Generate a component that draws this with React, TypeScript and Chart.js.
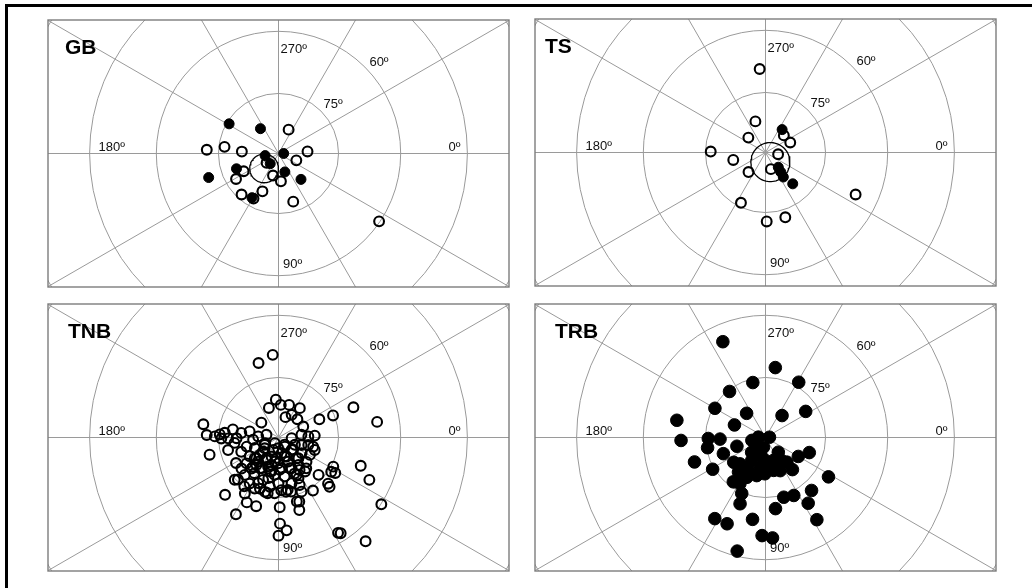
import React, { useEffect, useRef } from "react";
import { Chart, registerables } from "chart.js";

Chart.register(...registerables);

// ---- Site directions: declination (deg) and inclination (deg) ----
// Filled symbols: positive (downward) inclination; open symbols: negative (upward).

const gbDownDec = [211, 234, 0, 171, 129, 160, 161, 71, 49, 121];
const gbDownInc = [75.6, 82.3, 88.7, 86.6, 86.7, 78.8, 71.6, 85.1, 81.4, 77.1];
const gbUpDec = [293, 183, 187, 183, 356, 21, 142, 153, 149, 104, 85, 113, 132, 119, 73, 34];
const gbUpInc = [-83.5, -72.1, -76.4, -80.8, -82.7, -85.2, -86.2, -80.2, -77.6, -84.3, -83.0, -79.7, -76.2, -77.1, -77.4, -60.2];
const gbMean = [134, 84.8];
const gbA95 = 3.6;

const tsDownDec = [306, 49, 52, 54, 49];
const tsDownInc = [82.9, 85.1, 83.8, 82.4, 79.6];
const tsUpDec = [266, 252, 221, 181, 167, 131, 72, 8, 317, 338, 116, 89, 73, 25];
const tsUpInc = [-69.2, -81.8, -84.3, -76.3, -81.7, -83.5, -85.6, -86.8, -83.7, -83.3, -76.0, -72.8, -73.1, -65.4];
const tsMean = [63, 87.3];
const tsA95 = 4.9;

const tnbUpDec = [
  266, 252, 274, 288, 306, 289, 300, 316, 336, 338,
  221, 190, 182, 181, 185, 190, 187, 192, 183, 193,
  123, 3, 353, 358, 357, 14, 19, 166, 166, 159,
  156, 138, 110, 79, 43, 34, 29, 149, 141, 130,
  110, 91, 68, 54, 48, 132, 124, 110, 96, 81,
  66, 52, 43, 28, 32, 134, 122, 110, 100, 87,
  74, 66, 43, 133, 121, 266, 255, 338, 351, 336,
  19, 25, 33, 119, 116, 108, 89, 72, 74, 89,
  85, 90, 58, 57, 50, 57, 44, 183, 173, 164,
  157, 49, 24, 18, 139, 119, 102, 84, 67, 131,
  140, 136, 125, 115, 104, 94, 82, 64, 142, 99,
  72, 46, 15, 33, 175, 179, 179, 179, 92, 104,
  77, 67, 74, 129, 104, 118, 137, 147, 41,
  137, 120, 96, 67, 49, 121, 104, 88, 70, 57,
  131, 152, 55, 40, 113, 114, 90, 80, 101, 64,
];
const tnbUpInc = [
  -80.5, -82.2, -81.8, -81.4, -80.9, -84.6, -83.4, -83.4, -78.8, -75.3,
  -84.3, -71.0, -72.1, -74.1, -76.5, -78.4, -80.6, -82.6, -84.9, -86.9,
  -88.3, -86.7, -84.2, -82.5, -80.9, -82.3, -80.4, -72.3, -77.0, -80.0,
  -83.5, -84.8, -84.9, -86.0, -85.5, -83.0, -81.0, -77.6, -79.7, -82.1,
  -82.3, -83.5, -83.5, -81.5, -79.6, -77.4, -79.2, -78.7, -80.6, -80.1,
  -80.1, -79.2, -76.3, -74.5, -73.3, -75.4, -76.4, -76.4, -77.5, -76.8,
  -78.1, -77.0, -73.1, -70.5, -73.7, -69.4, -70.8, -69.9, -65.3, -83.2,
  -68.4, -65.2, -59.9, -68.2, -72.0, -72.0, -72.6, -73.2, -71.2, -68.6,
  -66.9, -65.7, -62.3, -61.9, -56.9, -74.2, -72.3, -75.3, -78.9, -81.7,
  -86.3, -87.6, -85.5, -83.9, -82.1, -81.2, -81.3, -82.3, -81.6, -79.7,
  -77.9, -74.8, -75.1, -75.9, -76.0, -76.0, -76.3, -79.6, -85.6, -83.9,
  -85.0, -82.8, -81.0, -74.3, -83.6, -79.5, -77.4, -75.7, -87.3, -79.5,
  -76.1, -75.3, -73.4, -81.2, -82.9, -83.6, -83.6, -81.4, -80.7,
  -82.4, -84.0, -84.8, -84.8, -83.1, -81.0, -81.2, -81.9, -81.8, -80.3,
  -80.3, -86.1, -87.2, -85.2, -86.6, -77.5, -78.5, -76.7, -75.8, -78.6,
];

const trbDownDec = [
  246, 278, 257, 301, 232, 210, 232, 307, 327, 191,
  202, 178, 179, 178, 163, 168, 183, 356, 134, 170,
  159, 161, 149, 142, 127, 121, 108, 87, 49, 49,
  30, 19, 50, 76, 100, 103, 115, 128, 126, 113,
  111, 32, 49, 64, 73, 57, 82, 58, 122, 114,
  99, 92, 86, 104, 102, 55, 119, 95, 120,
  117, 91, 71, 133, 134, 66,
];
const trbDownInc = [
  64.1, 72.4, 75.9, 73.9, 75.4, 75.4, 82.3, 83.1, 78.0, 67.6,
  81.6, 69.0, 75.7, 78.6, 82.5, 86.5, 88.2, 89.0, 86.9, 75.3,
  78.7, 71.3, 74.6, 79.9, 80.7, 83.3, 85.7, 83.4, 85.1, 81.8,
  80.5, 78.4, 79.5, 81.5, 82.4, 80.2, 79.0, 79.0, 76.3, 74.8,
  72.3, 71.5, 72.5, 73.9, 74.4, 70.5, 72.1, 66.0, 66.3, 66.6,
  69.4, 65.7, 65.1, 61.2, 87.5, 82.9, 76.8, 84.6, 84.8,
  80.7, 80.9, 83.9, 84.9, 80.8, 80.9,
];

// ---- Net graticule and annotation text ----
const GRID_INCS = [75, 60, 45, 30, 15];
const SPOKE_STEP = 30;
const AZIMUTH_LABELS = ["0º", "90º", "180º", "270º"];
const INC_LABELS = ["75º", "60º"];

// ---- Layout ----
const PX_PER_UNIT = 456;
const PLOT_W = 461;
const PLOT_H = 267;
const PAD = 2;
const DEG = Math.PI / 180;
const FONT = '"Liberation Sans", Arial, Helvetica, sans-serif';

type Pt = { x: number; y: number };

// Equal-angle (stereographic) projection, 0º to the right, 90º downwards.
function project(dec: number, inc: number): Pt {
  const r = Math.tan(((90 - Math.abs(inc)) * DEG) / 2);
  return { x: r * Math.cos(dec * DEG), y: -r * Math.sin(dec * DEG) };
}

function toPoints(decs: number[], incs: number[]): Pt[] {
  return decs.map((d, i) => project(d, incs[i]));
}

// Cone of confidence around a mean direction, traced on the sphere and projected.
function confidenceCircle(mean: number[], a95: number): Pt[] {
  const [D, I] = mean;
  const m = [Math.cos(I * DEG) * Math.cos(D * DEG), Math.cos(I * DEG) * Math.sin(D * DEG), Math.sin(I * DEG)];
  let u = [m[1], -m[0], 0];
  const un = Math.hypot(u[0], u[1]) || 1;
  u = [u[0] / un, u[1] / un, 0];
  const w = [m[1] * u[2] - m[2] * u[1], m[2] * u[0] - m[0] * u[2], m[0] * u[1] - m[1] * u[0]];
  const ca = Math.cos(a95 * DEG);
  const sa = Math.sin(a95 * DEG);
  const pts: Pt[] = [];
  for (let t = 0; t <= 360; t += 5) {
    const c = Math.cos(t * DEG);
    const s = Math.sin(t * DEG);
    const p = [0, 1, 2].map((k) => ca * m[k] + sa * (c * u[k] + s * w[k]));
    const inc = Math.asin(Math.max(-1, Math.min(1, p[2]))) / DEG;
    const dec = Math.atan2(p[1], p[0]) / DEG;
    pts.push(project(dec, inc));
  }
  return pts;
}

type Panel = {
  name: string;
  left: number;
  top: number;
  nameX: number;
  upDec?: number[];
  upInc?: number[];
  downDec?: number[];
  downInc?: number[];
  mean?: number[];
  a95?: number;
  dotR: number;
};

const PANELS: Panel[] = [
  { name: "GB", left: 48, top: 20, nameX: 17, upDec: gbUpDec, upInc: gbUpInc, downDec: gbDownDec, downInc: gbDownInc, mean: gbMean, a95: gbA95, dotR: 5.0 },
  { name: "TS", left: 535, top: 19, nameX: 10, upDec: tsUpDec, upInc: tsUpInc, downDec: tsDownDec, downInc: tsDownInc, mean: tsMean, a95: tsA95, dotR: 5.0 },
  { name: "TNB", left: 48, top: 304, nameX: 20, upDec: tnbUpDec, upInc: tnbUpInc, dotR: 5.0 },
  { name: "TRB", left: 535, top: 304, nameX: 20, downDec: trbDownDec, downInc: trbDownInc, dotR: 6.3 },
];

const netPlugin = (panel: Panel) => ({
  id: "stereonet-" + panel.name,
  beforeDatasetsDraw(chart: any) {
    const { ctx, chartArea: ca, scales } = chart;
    const cx = scales.x.getPixelForValue(0);
    const cy = scales.y.getPixelForValue(0);
    const k = scales.x.getPixelForValue(1) - cx;
    const rad = (inc: number) => k * Math.tan(((90 - inc) * DEG) / 2);

    ctx.save();
    ctx.beginPath();
    ctx.rect(ca.left, ca.top, ca.width, ca.height);
    ctx.clip();

    ctx.strokeStyle = "#9a9a9a";
    ctx.lineWidth = 1;
    for (const inc of GRID_INCS) {
      ctx.beginPath();
      ctx.arc(cx, cy, rad(inc), 0, Math.PI * 2);
      ctx.stroke();
    }
    for (let a = 0; a < 360; a += SPOKE_STEP) {
      ctx.beginPath();
      ctx.moveTo(cx, cy);
      ctx.lineTo(cx + 1000 * Math.cos(a * DEG), cy + 1000 * Math.sin(a * DEG));
      ctx.stroke();
    }

    // azimuth and inclination labels
    ctx.fillStyle = "#111";
    ctx.font = `13px ${FONT}`;
    ctx.textBaseline = "alphabetic";
    const [l0, l90, l180, l270] = AZIMUTH_LABELS;
    ctx.textAlign = "left";
    ctx.fillText(l270, cx + 2, cy - rad(60) + 22);
    ctx.fillText(l90, cx + 4.5, cy + rad(60) - 7.5);
    ctx.fillText(l180, cx - rad(45) + 9, cy - 2.5);
    const diag = Math.SQRT1_2;
    ctx.fillText(INC_LABELS[0], cx + rad(75) * diag + 2.5, cy - rad(75) * diag - 3);
    ctx.fillText(INC_LABELS[1], cx + rad(60) * diag + 4.5, cy - rad(60) * diag - 1);
    ctx.textAlign = "right";
    ctx.fillText(l0, cx + rad(45) - 7, cy - 2.5);

    // site name
    ctx.textAlign = "left";
    ctx.fillStyle = "#000";
    ctx.font = `bold 21px ${FONT}`;
    ctx.fillText(panel.name, ca.left + panel.nameX, ca.top + 34);
    ctx.restore();
  },
  afterDraw(chart: any) {
    const { ctx, chartArea: ca } = chart;
    ctx.save();
    ctx.strokeStyle = "#7d7d7d";
    ctx.lineWidth = 1.4;
    ctx.strokeRect(ca.left, ca.top, ca.width, ca.height);
    ctx.restore();
  },
});

function StereoPanel({ panel }: { panel: Panel }) {
  const ref = useRef<HTMLCanvasElement>(null);
  const W = PLOT_W + PAD * 2;
  const H = PLOT_H + PAD * 2;

  useEffect(() => {
    const datasets: any[] = [];
    if (panel.mean && panel.a95) {
      datasets.push({
        data: confidenceCircle(panel.mean, panel.a95),
        showLine: true,
        pointRadius: 0,
        borderColor: "#000",
        borderWidth: 1.3,
        fill: false,
        tension: 0,
      });
    }
    if (panel.downDec && panel.downInc) {
      datasets.push({
        data: toPoints(panel.downDec, panel.downInc),
        pointRadius: panel.dotR,
        pointBackgroundColor: "#000",
        pointBorderColor: "#000",
        pointBorderWidth: 1,
        showLine: false,
      });
    }
    if (panel.upDec && panel.upInc) {
      datasets.push({
        data: toPoints(panel.upDec, panel.upInc),
        pointRadius: 4.9,
        pointBackgroundColor: "rgba(0,0,0,0)",
        pointBorderColor: "#000",
        pointBorderWidth: 2.1,
        showLine: false,
      });
    }

    const xHalf = PLOT_W / 2 / PX_PER_UNIT;
    const yHalf = PLOT_H / 2 / PX_PER_UNIT;
    const chart = new Chart(ref.current as HTMLCanvasElement, {
      type: "scatter",
      data: { datasets },
      options: {
        responsive: false,
        animation: false,
        devicePixelRatio: 1,
        events: [],
        layout: { padding: PAD, autoPadding: false },
        plugins: { legend: { display: false }, tooltip: { enabled: false } },
        scales: {
          x: { type: "linear", min: -xHalf, max: xHalf, display: false },
          y: { type: "linear", min: -yHalf, max: yHalf, display: false },
        },
      },
      plugins: [netPlugin(panel)],
    } as any);
    return () => chart.destroy();
  }, [panel]);

  return (
    <canvas
      ref={ref}
      width={W}
      height={H}
      style={{ position: "absolute", left: panel.left - PAD, top: panel.top - PAD, width: W, height: H }}
    />
  );
}

export default function App() {
  return (
    <div style={{ position: "absolute", left: 0, top: 0, width: 1032, height: 588, overflow: "hidden", background: "#fff" }}>
      <div
        style={{
          position: "absolute",
          left: 5,
          top: 4,
          width: 1027,
          height: 584,
          boxSizing: "border-box",
          borderLeft: "3px solid #000",
          borderTop: "3px solid #000",
        }}
      />
      {PANELS.map((p) => (
        <StereoPanel key={p.name} panel={p} />
      ))}
    </div>
  );
}
